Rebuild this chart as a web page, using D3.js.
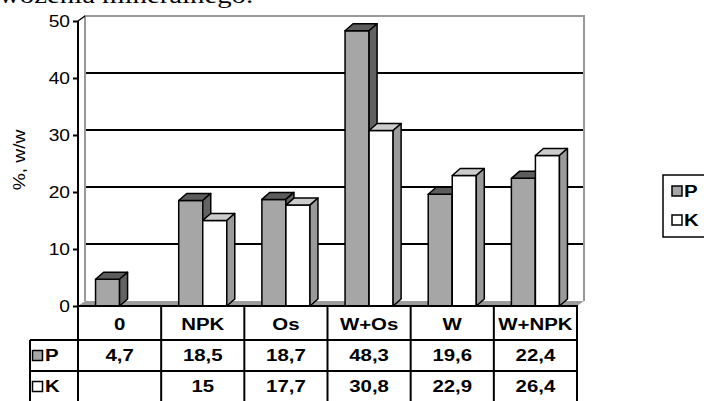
<!DOCTYPE html>
<html>
<head>
<meta charset="utf-8">
<script src="https://cdn.jsdelivr.net/npm/d3@7"></script>
<style>
  html, body { margin: 0; padding: 0; background: #fff; }
  svg { display: block; }
  text { font-family: "Liberation Sans", Arial, sans-serif; fill: #000; }
</style>
</head>
<body>
<svg id="chart" width="704" height="401"></svg>
<script>
// Data
const categories = ["0", "NPK", "Os", "W+Os", "W", "W+NPK"];
const seriesNames = ["P", "K"];
const valuesP = [4.7, 18.5, 18.7, 48.3, 19.6, 22.4];
const valuesK = [null, 15, 17.7, 30.8, 22.9, 26.4];
const yTicks = [0, 10, 20, 30, 40, 50];
const yTitle = "%, w/w";
const headerText = "wożenia mineralnego.";

const seriesValues = { P: valuesP, K: valuesK };
const seriesStyle = {
  P: { front: "#a6a6a6", top: "#5c5c5c", side: "#626262" },
  K: { front: "#ffffff", top: "#cccccc", side: "#9a9a9a" }
};

const svg = d3.select("#chart");
const WIDEN = 1.2; // glyphs are drawn slightly wide

// Places a widened text anchored at (x, y)
function label(parent, x, y, str, opts = {}) {
  const g = parent.append("g")
    .attr("transform", `translate(${x},${y}) ${opts.rotate ? `rotate(${opts.rotate})` : ""} scale(${WIDEN},1)`);
  return g.append("text")
    .attr("text-anchor", opts.anchor || "middle")
    .attr("dominant-baseline", opts.baseline || "central")
    .style("font-size", (opts.size || 17) + "px")
    .style("font-weight", opts.bold ? "bold" : "normal")
    .style("font-family", opts.family || null)
    .text(str);
}

// Layout
const plotLeft = 78, plotRight = 577, baseY = 306;
const wallDx = 7, wallDy = 5;      // depth of the back wall
const barDx = 8, barDy = 7;        // depth of each bar

const x = d3.scaleBand().domain(categories).range([plotLeft, plotRight]).padding(0);
const xs = d3.scaleBand().domain(seriesNames).range([0, x.bandwidth()])
  .paddingInner(0).paddingOuter(0.73);
const y = d3.scaleLinear().domain([0, 50]).range([baseY, 21]);

// Cut-off line of running text above the chart
label(svg, -1, 3, headerText, {
  anchor: "start", baseline: "alphabetic", size: 24,
  family: "'Liberation Serif', 'Times New Roman', serif"
});

// Back wall floor
const wallL = plotLeft + wallDx, wallR = plotRight + wallDx;
svg.append("polygon")
  .attr("points", [[plotLeft, baseY], [wallL, baseY - wallDy], [wallR, baseY - wallDy], [plotRight, baseY]].join(" "))
  .attr("fill", "#9c9c9c");

// Gridlines on the back wall
svg.append("g").selectAll("line")
  .data(yTicks.filter(d => d > 0 && d < 50))
  .join("line")
  .attr("x1", wallL).attr("x2", wallR)
  .attr("y1", d => y(d) - wallDy).attr("y2", d => y(d) - wallDy)
  .attr("stroke", "#000").attr("stroke-width", 2);

// Wall outline (left, top, right) in gray
svg.append("path")
  .attr("d", `M${wallL},${baseY - wallDy}V${y(50) - wallDy}H${wallR}V${baseY - wallDy}`)
  .attr("fill", "none").attr("stroke", "#999").attr("stroke-width", 2);

// Bars
const barsG = svg.append("g");
categories.forEach((cat, i) => {
  seriesNames.forEach(s => {
    const v = seriesValues[s][i];
    if (v == null) return;
    const x0 = x(cat) + xs(s), w = xs.bandwidth(), x1 = x0 + w;
    const yt = y(v), yb = y(0);
    const st = seriesStyle[s];
    const g = barsG.append("g")
      .attr("stroke", "#000").attr("stroke-width", 1.5).attr("stroke-linejoin", "round");
    g.append("rect").attr("x", x0).attr("y", yt).attr("width", w).attr("height", yb - yt)
      .attr("fill", st.front);
    g.append("polygon")
      .attr("points", [[x0, yt], [x0 + barDx, yt - barDy], [x1 + barDx, yt - barDy], [x1, yt]].join(" "))
      .attr("fill", st.top);
    g.append("polygon")
      .attr("points", [[x1, yt], [x1 + barDx, yt - barDy], [x1 + barDx, yb - barDy], [x1, yb]].join(" "))
      .attr("fill", st.side);
  });
});

// Value axis
const axis = d3.axisLeft(y).tickValues(yTicks).tickSize(5).tickFormat("");
const axisG = svg.append("g").attr("transform", `translate(${plotLeft},0)`).call(axis);
axisG.select(".domain").attr("stroke", "#000").attr("stroke-width", 2)
  .attr("d", `M0,${y(0)}V${y(50)}`);
axisG.selectAll(".tick line").attr("stroke", "#000").attr("stroke-width", 2);
yTicks.forEach(t => label(svg, plotLeft - 8, y(t) + 1, String(t), { anchor: "end", size: 16 }));
// short diagonal joining the axis top to the wall corner
svg.append("line")
  .attr("x1", plotLeft).attr("y1", y(50)).attr("x2", wallL).attr("y2", y(50) - wallDy)
  .attr("stroke", "#000").attr("stroke-width", 1.5);

label(svg, 20, 160, yTitle, { rotate: -90, size: 16 });

// Data table under the plot
const tableLeft = 30;
const rowTop = [baseY, 340, 371];
const rowBottom = [340, 371, 402];
const tbl = svg.append("g");
const tLine = (x1, y1, x2, y2) => tbl.append("line")
  .attr("x1", x1).attr("y1", y1).attr("x2", x2).attr("y2", y2)
  .attr("stroke", "#000").attr("stroke-width", 2);

tLine(plotLeft - 1, baseY, plotRight + 1, baseY);
tLine(tableLeft, rowTop[1], plotRight, rowTop[1]);
tLine(tableLeft, rowTop[2], plotRight, rowTop[2]);
tLine(tableLeft, rowTop[1], tableLeft, 401);
tLine(plotLeft, baseY, plotLeft, 401);
categories.forEach(c => tLine(x(c) + x.bandwidth(), baseY, x(c) + x.bandwidth(), 401));

const fmt = v => v == null ? "" : String(v).replace(".", ",");

categories.forEach(c => label(tbl, x(c) + x.bandwidth() / 2, (rowTop[0] + rowBottom[0]) / 2 + 1, c,
  { bold: true, size: 17 }));

seriesNames.forEach((s, r) => {
  const cy = (rowTop[r + 1] + rowBottom[r + 1]) / 2;
  seriesValues[s].forEach((v, i) => {
    if (v == null) return;
    label(tbl, x(categories[i]) + x.bandwidth() / 2, cy, fmt(v), { bold: true, size: 17 });
  });
  tbl.append("rect")
    .attr("x", tableLeft + 2.5).attr("y", cy - 5).attr("width", 10).attr("height", 10)
    .attr("fill", seriesStyle[s].front).attr("stroke", "#000").attr("stroke-width", 1.5);
  label(tbl, tableLeft + 15, cy, s, { anchor: "start", bold: true, size: 17 });
});

// Legend
const lg = svg.append("g").attr("transform", "translate(663,175)");
lg.append("rect").attr("x", 0).attr("y", 0).attr("width", 60).attr("height", 62)
  .attr("fill", "#fff").attr("stroke", "#000").attr("stroke-width", 1.5);
seriesNames.forEach((s, i) => {
  const cy = 16 + i * 29;
  lg.append("rect").attr("x", 9).attr("y", cy - 5).attr("width", 10).attr("height", 10)
    .attr("fill", seriesStyle[s].front).attr("stroke", "#000").attr("stroke-width", 1.5);
  label(lg, 21, cy, s, { anchor: "start", bold: true, size: 17 });
});
</script>
</body>
</html>
